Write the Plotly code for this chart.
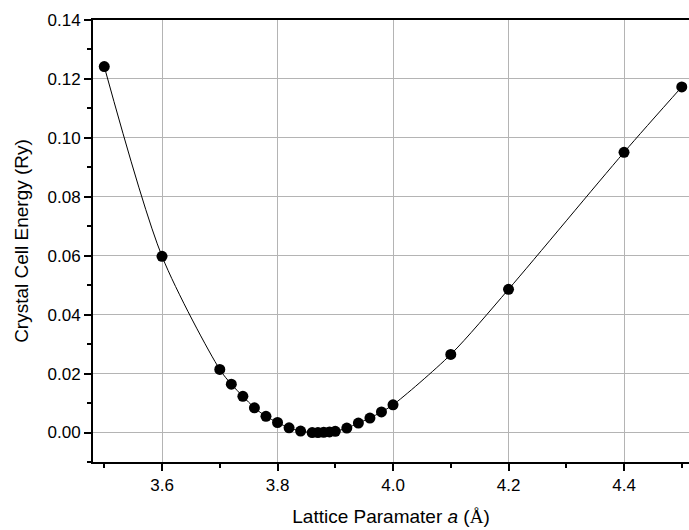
import plotly.graph_objects as go

# Lattice parameter scan (Å) and relative cell energy (Ry)
lattice_a = [3.50, 3.60, 3.70, 3.72, 3.74, 3.76, 3.78, 3.80, 3.82, 3.84,
             3.86, 3.87, 3.88, 3.89, 3.90, 3.92, 3.94, 3.96, 3.98, 4.00,
             4.10, 4.20, 4.40, 4.50]
energy_ry = [0.1242, 0.0598, 0.0214, 0.0164, 0.0123, 0.0084, 0.0055, 0.0034,
             0.0016, 0.0005, 0.0000, 0.0000, 0.0001, 0.0002, 0.0004, 0.0015,
             0.0032, 0.0049, 0.0070, 0.0094, 0.0265, 0.0486, 0.0951, 0.1173]

x_ticks = [3.6, 3.8, 4.0, 4.2, 4.4]
y_ticks = [0.00, 0.02, 0.04, 0.06, 0.08, 0.10, 0.12, 0.14]

FONT = "Arial, Liberation Sans, sans-serif"

fig = go.Figure()
fig.add_trace(go.Scatter(
    x=lattice_a, y=energy_ry,
    mode="lines+markers",
    line=dict(color="black", width=1, shape="spline", smoothing=0.8),
    marker=dict(color="black", size=11),
    showlegend=False,
))

axis_common = dict(
    showline=True, linecolor="black", linewidth=2,
    ticks="outside", ticklen=7, tickwidth=1.5, tickcolor="black",
    showgrid=True, gridcolor="#b4b4b4", gridwidth=1,
    zeroline=False,
    tickfont=dict(family=FONT, size=17, color="black"),
)

fig.update_xaxes(
    **axis_common,
    range=[3.4805, 4.5125],
    tickvals=x_ticks, tickformat=".1f",
    mirror=True,
    minor=dict(dtick=0.1, tick0=3.5, ticks="outside", ticklen=4,
               tickwidth=1.5, tickcolor="black", showgrid=False),
    title=dict(text="Lattice Paramater <i>a</i> (<span style='font-family:Liberation Serif, Times New Roman, serif'>Å</span>)",
               font=dict(family=FONT, size=19, color="black"), standoff=15),
)
fig.update_yaxes(
    **axis_common,
    range=[-0.01, 0.14],
    tickvals=y_ticks, tickformat=".2f",
    minor=dict(dtick=0.01, tick0=0, ticks="outside", ticklen=4,
               tickwidth=1.5, tickcolor="black", showgrid=False),
    title=dict(text="Crystal Cell Energy (Ry)",
               font=dict(family=FONT, size=19, color="black"), standoff=14),
)

fig.update_layout(
    width=689, height=530,
    margin=dict(l=93, r=0, t=20, b=68),
    paper_bgcolor="white", plot_bgcolor="white",
)

fig.write_html("out.html")
